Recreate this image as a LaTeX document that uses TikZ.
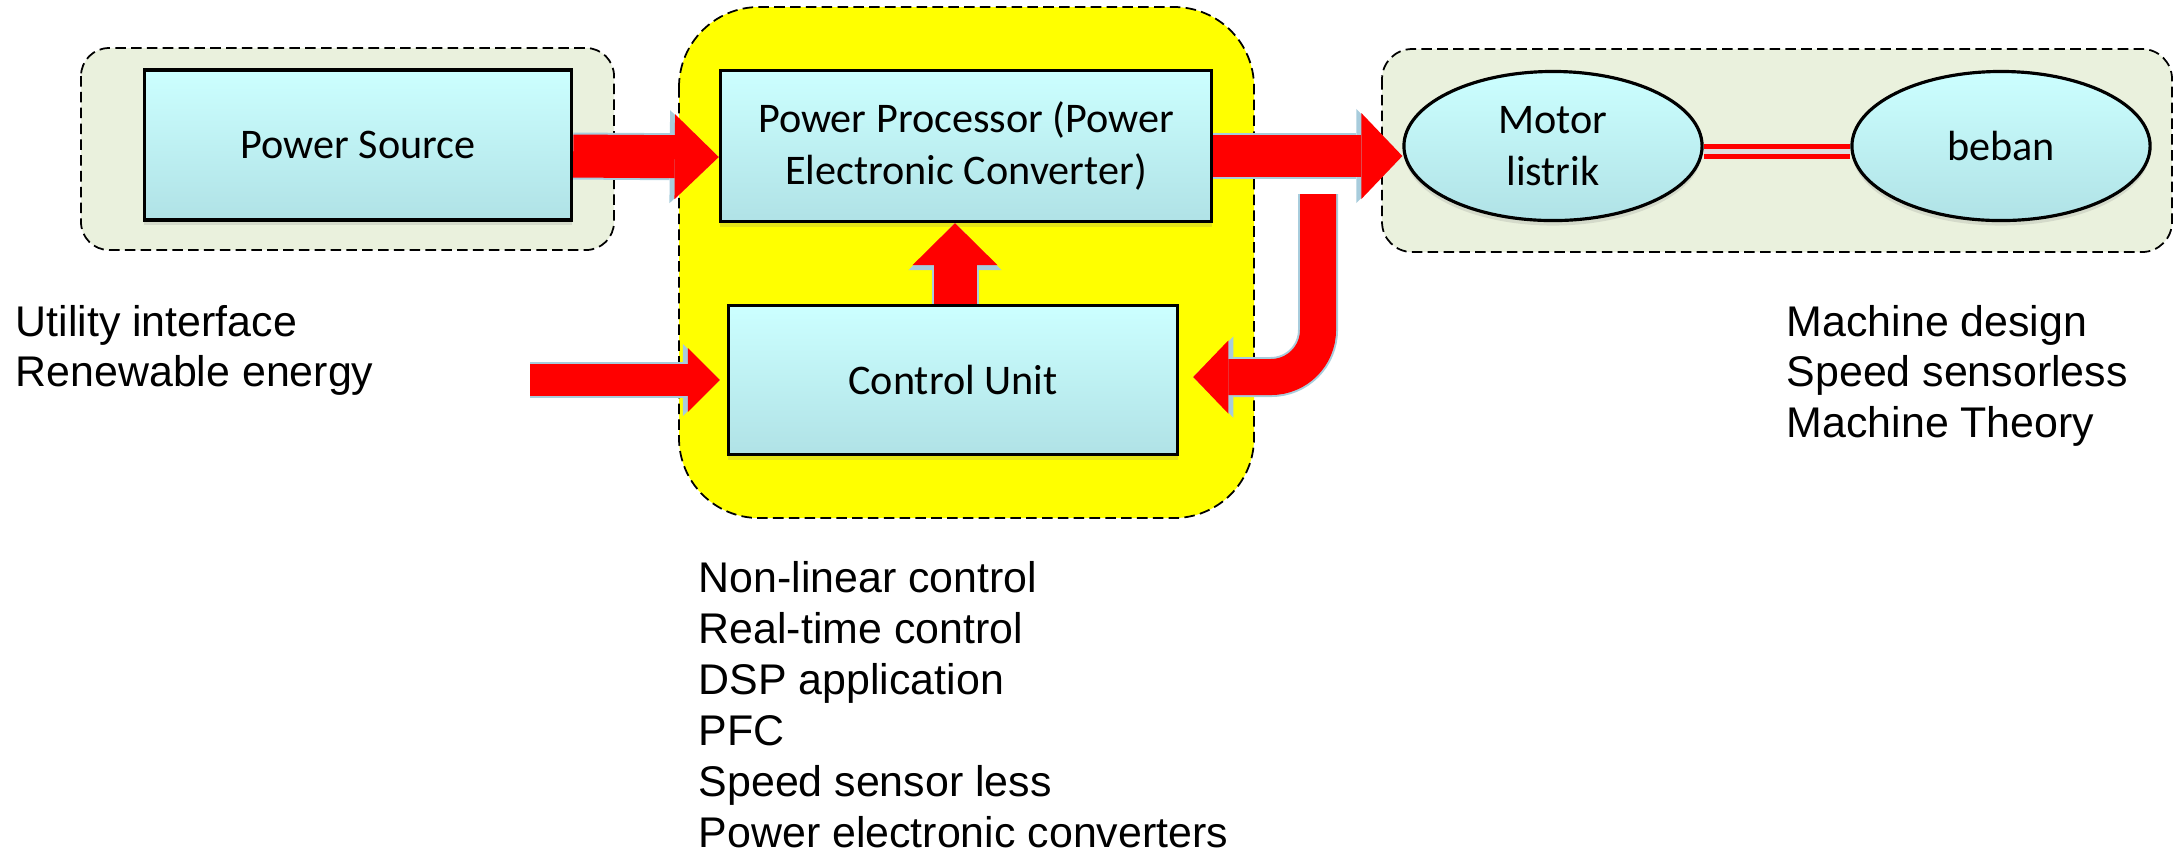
\documentclass[tikz,border=0pt]{standalone}
\usepackage{fontspec}
\setmainfont{Liberation Sans}
\newfontfamily\boxfont{Carlito}
\usetikzlibrary{arrows.meta,shapes.geometric,shadows}
\definecolor{boxtop}{HTML}{CCFFFF}
\definecolor{boxbot}{HTML}{B0E2E6}
\definecolor{grpfill}{HTML}{EAF1DD}
\definecolor{ctrlfill}{HTML}{FFFF00}
\definecolor{arrowedge}{HTML}{A8CCDC}

\tikzset{
  block/.style={draw, line width=0.9pt, top color=boxtop, bottom color=boxbot,
    font=\boxfont\fontsize{12}{14.6}\selectfont, align=center, inner sep=0pt,
    drop shadow={shadow xshift=0pt, shadow yshift=-0.05cm, opacity=0.2}},
  load/.style={block, ellipse, minimum width=2.98cm, minimum height=1.49cm},
  grp/.style={draw=black, line width=0.5pt, dash pattern=on 3pt off 1.5pt},
  note/.style={anchor=base west, inner sep=0pt, font=\fontsize{12.2}{14.5}\selectfont},
  % shaft width, head length, head width
  fat/.style n args={3}{draw=red, line width=#1,
    -{Triangle[length=#2, width=#3, line width=0pt]},
    preaction={draw=arrowedge, line width=#1+0.04cm,
      -{Triangle[length=#2+0.05cm, width=#3+0.08cm, line width=0pt]}}}
}

\begin{document}
\begin{tikzpicture}[x=0.01cm, y=-0.01cm]
  \useasboundingbox (0,0) rectangle (2183,853);

  % groups
  \draw[grp, fill=grpfill, rounded corners=0.28cm] (81,48) rectangle (614,250);
  \draw[grp, fill=ctrlfill, rounded corners=0.8cm] (679,7) rectangle (1254,518);
  \draw[grp, fill=grpfill, rounded corners=0.3cm] (1382,49) rectangle (2172,252);

  % blocks
  \node[block, minimum width=4.27cm, minimum height=1.5cm] (ps) at (358,145) {Power Source};
  \node[block, minimum width=4.91cm, minimum height=1.51cm] (pp) at (966,146) {Power Processor (Power\\Electronic Converter)};
  \node[block, minimum width=4.49cm, minimum height=1.49cm] (cu) at (953,380) {Control Unit};
  \node[load] (motor) at (1553,146) {Motor\\listrik};
  \node[load] (beban) at (2001,146) {beban};

  % shaft
  \draw[red, line width=0.05cm, double=gray!25, double distance=0.05cm]
    ([yshift=-0.05cm]motor.east) -- ([yshift=-0.05cm]beban.west);

  % power flow
  \coordinate (ext) at (530,380);
  \coordinate (fb) at (1318,194);
  \draw[fat={0.43cm}{0.44cm}{0.85cm}] ([yshift=-0.11cm]ps.east) -- ([yshift=-0.11cm]pp.west);
  \draw[fat={0.42cm}{0.41cm}{0.86cm}] ([yshift=-0.1cm]pp.east) -- ([yshift=-0.1cm]motor.west);
  \draw[fat={0.43cm}{0.42cm}{0.85cm}] ([xshift=0.02cm]cu.north) -- ([xshift=0.02cm]cu.north |- pp.south);
  \draw[fat={0.32cm}{0.32cm}{0.64cm}] (ext) -- ([xshift=-0.07cm]cu.west);
  \draw[fat={0.36cm}{0.35cm}{0.73cm}, rounded corners=0.47cm] (fb) |- ([xshift=0.14cm,yshift=0.03cm]cu.east);

  % topics
  \foreach \txt [count=\i] in {Utility interface, Renewable energy}
    \node[note] (src\i) at (15,{286+50*\i}) {\txt};
  \foreach \txt [count=\i] in {Non-linear control, Real-time control, DSP application, PFC, Speed sensor less, Power electronic converters}
    \node[note] (ctl\i) at (698,{541+51*\i}) {\txt};
  \foreach \txt [count=\i] in {Machine design, Speed sensorless, Machine Theory}
    \node[note] (mach\i) at (1786,{285.5+50.5*\i}) {\txt};
\end{tikzpicture}
\end{document}
